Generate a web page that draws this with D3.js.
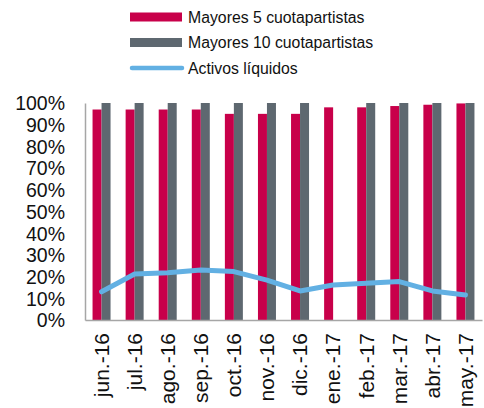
<!DOCTYPE html>
<html>
<head>
<meta charset="utf-8">
<script src="https://cdn.jsdelivr.net/npm/d3@7"></script>
<style>
  body { margin: 0; background: #fff; }
  text { font-family: "Liberation Sans", Arial, sans-serif; fill: #111; }
</style>
</head>
<body>
<script>
// Chart data
const months = ["jun.-16", "jul.-16", "ago.-16", "sep.-16", "oct.-16", "nov.-16", "dic.-16", "ene.-17", "feb.-17", "mar.-17", "abr.-17", "may.-17"];
const top5 = [97, 97, 97, 97, 95, 95, 95, 98, 98, 98.6, 99.2, 99.8];
const top10 = [100, 100, 100, 100, 100, 100, 100, null, 100, 100, 100, 100];
const liquidos = [13, 21.2, 21.8, 23, 22.3, 18.4, 13.4, 16.1, 16.9, 17.7, 13.4, 11.5];
const yTicks = [0, 10, 20, 30, 40, 50, 60, 70, 80, 90, 100];

const w = 484, h = 408;
const mLeft = 85, mRight = 482, mTop = 103, mBottom = 320;
const red = "#c8004a", grey = "#5e6870", blue = "#62b0e3";

const svg = d3.select("body").append("svg")
  .attr("width", w)
  .attr("height", h);

const x = d3.scaleBand().domain(months).range([mLeft, mRight]);
const y = d3.scaleLinear().domain([0, 100]).range([mBottom, mTop]);
const bw = 9;

// Bars
svg.selectAll(".r5").data(months).join("rect")
  .attr("class", "r5")
  .attr("x", (d) => x(d) + x.bandwidth() / 2 - bw)
  .attr("width", bw)
  .attr("y", (d, i) => y(top5[i]))
  .attr("height", (d, i) => y(0) - y(top5[i]))
  .attr("fill", red);

svg.selectAll(".r10").data(months.filter((d, i) => top10[i] != null)).join("rect")
  .attr("class", "r10")
  .attr("x", (d) => x(d) + x.bandwidth() / 2)
  .attr("width", bw)
  .attr("y", (d) => y(top10[months.indexOf(d)]))
  .attr("height", (d) => y(0) - y(top10[months.indexOf(d)]))
  .attr("fill", grey);

// Line
const line = d3.line()
  .x((d, i) => x(months[i]) + x.bandwidth() / 2)
  .y((d) => y(d));
svg.append("path")
  .datum(liquidos)
  .attr("d", line)
  .attr("fill", "none")
  .attr("stroke", blue)
  .attr("stroke-width", 5)
  .attr("stroke-linejoin", "round")
  .attr("stroke-linecap", "round");

// Axes
const yAxis = d3.axisLeft(y).tickValues(yTicks).tickFormat((d) => d + "%").tickSize(0).tickPadding(20);
const gy = svg.append("g").attr("transform", `translate(${mLeft},0)`).call(yAxis);
gy.select(".domain").attr("stroke", "#a6a6a6").attr("stroke-width", 1.5);
gy.selectAll("text").style("font-size", "19.5px").attr("dy", "0.35em");

const xAxis = d3.axisBottom(x).tickSize(0).tickPadding(0);
const gx = svg.append("g").attr("transform", `translate(0,${mBottom})`).call(xAxis);
gx.select(".domain").attr("stroke", "#a6a6a6").attr("stroke-width", 1.5);
gx.selectAll("text")
  .style("font-size", "21px")
  .attr("text-anchor", "end")
  .attr("transform", "rotate(-90)")
  .attr("x", -13)
  .attr("y", 0)
  .attr("dy", "0.35em");

// Legend
const legend = [
  { label: "Mayores 5 cuotapartistas", color: red, type: "bar" },
  { label: "Mayores 10 cuotapartistas", color: grey, type: "bar" },
  { label: "Activos líquidos", color: blue, type: "line" }
];
const lg = svg.selectAll(".lg").data(legend).join("g")
  .attr("class", "lg")
  .attr("transform", (d, i) => `translate(130,${17 + i * 25.5})`);
lg.filter((d) => d.type === "bar").append("rect")
  .attr("x", 0).attr("y", -4.5).attr("width", 52).attr("height", 9)
  .attr("fill", (d) => d.color);
lg.filter((d) => d.type === "line").append("line")
  .attr("x1", 2).attr("x2", 52).attr("y1", 0).attr("y2", 0)
  .attr("stroke", (d) => d.color).attr("stroke-width", 4.5).attr("stroke-linecap", "round");
lg.append("text")
  .attr("x", 58).attr("y", 5.5)
  .style("font-size", "15.8px")
  .text((d) => d.label);
</script>
</body>
</html>
